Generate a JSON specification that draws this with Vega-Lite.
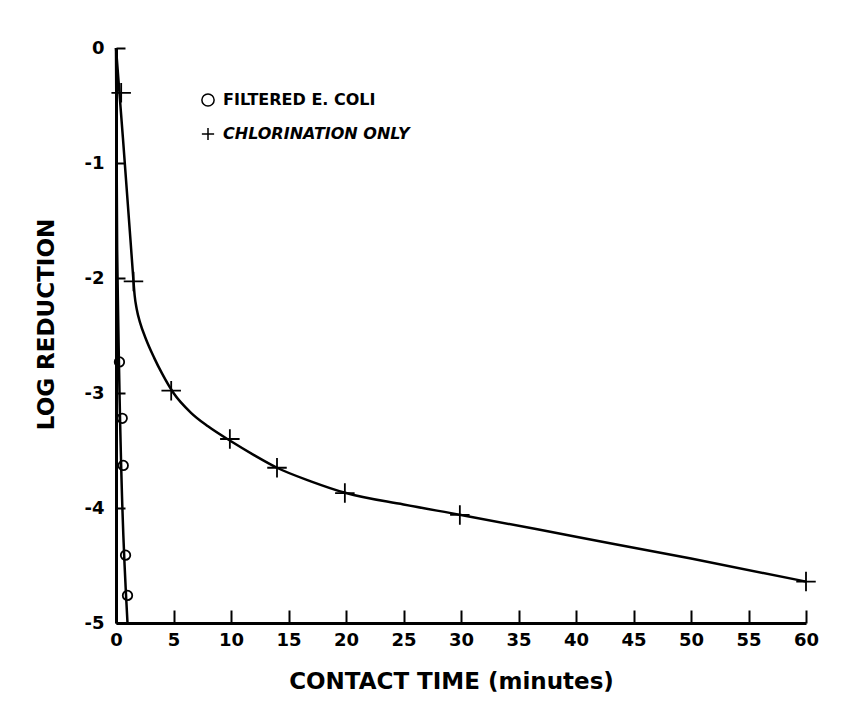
{
  "$schema": "https://vega.github.io/schema/vega-lite/v6.json",
  "autosize": "none",
  "width": 690,
  "height": 575,
  "padding": {"left": 116, "top": 48, "right": 54, "bottom": 90},
  "background": "white",
  "config": {
    "font": "DejaVu Sans",
    "view": {"stroke": null},
    "axis": {"grid": true, "gridColor": "black", "gridWidth": 2, "gridOpacity": 1, "ticks": false, "domain": true, "domainColor": "black", "domainWidth": 3, "labelColor": "black", "titleColor": "black", "labelFont": "DejaVu Sans", "labelFontWeight": "bold", "labelFontSize": 18, "titleFont": "DejaVu Sans", "titleFontWeight": "bold", "titleFontSize": 23}
  },
  "datasets": {
    "points": [
      {"series": "FILTERED E. COLI", "time": 0.3, "log": -2.73},
      {"series": "FILTERED E. COLI", "time": 0.54, "log": -3.22},
      {"series": "FILTERED E. COLI", "time": 0.63, "log": -3.63},
      {"series": "FILTERED E. COLI", "time": 0.83, "log": -4.41},
      {"series": "FILTERED E. COLI", "time": 1.0, "log": -4.76},
      {"series": "CHLORINATION ONLY", "time": 0.45, "log": -0.39},
      {"series": "CHLORINATION ONLY", "time": 1.52, "log": -2.03},
      {"series": "CHLORINATION ONLY", "time": 4.8, "log": -2.98},
      {"series": "CHLORINATION ONLY", "time": 9.9, "log": -3.4},
      {"series": "CHLORINATION ONLY", "time": 14, "log": -3.65},
      {"series": "CHLORINATION ONLY", "time": 19.9, "log": -3.87},
      {"series": "CHLORINATION ONLY", "time": 29.9, "log": -4.06},
      {"series": "CHLORINATION ONLY", "time": 60, "log": -4.64}
    ],
    "curves": [
      {"curve": "filtered", "time": 0, "log": 0},
      {"curve": "filtered", "time": 0.1, "log": -1.75},
      {"curve": "filtered", "time": 1.0, "log": -5.0},
      {"curve": "chlorination", "time": 0, "log": 0},
      {"curve": "chlorination", "time": 0.6, "log": -0.78},
      {"curve": "chlorination", "time": 1.26, "log": -1.67},
      {"curve": "chlorination", "time": 1.5, "log": -2.0},
      {"curve": "chlorination", "time": 1.62, "log": -2.15},
      {"curve": "chlorination", "time": 1.8, "log": -2.27},
      {"curve": "chlorination", "time": 2.1, "log": -2.39},
      {"curve": "chlorination", "time": 2.6, "log": -2.53},
      {"curve": "chlorination", "time": 3.3, "log": -2.69},
      {"curve": "chlorination", "time": 4.0, "log": -2.83},
      {"curve": "chlorination", "time": 5.0, "log": -3.0},
      {"curve": "chlorination", "time": 6.5, "log": -3.17},
      {"curve": "chlorination", "time": 8.0, "log": -3.29},
      {"curve": "chlorination", "time": 10, "log": -3.42},
      {"curve": "chlorination", "time": 12, "log": -3.54},
      {"curve": "chlorination", "time": 14, "log": -3.65},
      {"curve": "chlorination", "time": 17, "log": -3.77},
      {"curve": "chlorination", "time": 20, "log": -3.87},
      {"curve": "chlorination", "time": 25, "log": -3.97},
      {"curve": "chlorination", "time": 30, "log": -4.06},
      {"curve": "chlorination", "time": 40, "log": -4.25},
      {"curve": "chlorination", "time": 50, "log": -4.44},
      {"curve": "chlorination", "time": 60, "log": -4.64}
    ]
  },
  "encoding": {
    "x": {"field": "time", "type": "quantitative", "scale": {"domain": [0, 60], "nice": false, "zero": false},
      "axis": {"values": [0, 5, 10, 15, 20, 25, 30, 35, 40, 45, 50, 55, 60], "gridDash": [13, 562], "gridDashOffset": 13, "labelPadding": 8, "title": "CONTACT TIME (minutes)", "titlePadding": 21, "titleX": 335, "labelFlush": false}},
    "y": {"field": "log", "type": "quantitative", "scale": {"domain": [-5, 0], "nice": false},
      "axis": {"values": [-5, -4, -3, -2, -1, 0], "gridDash": [9, 2000], "labelPadding": 12, "title": "LOG REDUCTION", "titlePadding": 26, "titleY": 276, "labelExpr": "datum.value == 0 ? '0' : '-' + abs(datum.value)", "labelFlush": false}}
  },
  "layer": [
    {
      "data": {"name": "curves"},
      "mark": {"type": "line", "color": "black", "strokeWidth": 2.5, "interpolate": "monotone", "clip": false},
      "encoding": {"detail": {"field": "curve"}}
    },
    {
      "data": {"name": "points"},
      "mark": {"type": "point", "filled": false, "color": "black", "strokeWidth": 1.8, "opacity": 1},
      "encoding": {
        "shape": {"field": "series", "type": "nominal",
          "scale": {"domain": ["FILTERED E. COLI", "CHLORINATION ONLY"], "range": ["circle", "M-1,0H1M0,-1V1"]},
          "legend": {"title": null, "orient": "none", "legendX": 84, "legendY": 44, "symbolSize": 150, "symbolStrokeWidth": 1.5, "symbolStrokeColor": "black", "symbolFillColor": "transparent", "labelFont": "DejaVu Sans", "labelFontWeight": "bold", "labelFontSize": 16, "labelColor": "black", "labelLimit": 500, "rowPadding": 14, "labelOffset": 7,
            "labelFontStyle": {"expr": "datum.label == 'CHLORINATION ONLY' ? 'italic' : 'normal'"}}},
        "size": {"condition": {"test": "datum.series == 'CHLORINATION ONLY'", "value": 380}, "value": 90}
      }
    }
  ]
}
